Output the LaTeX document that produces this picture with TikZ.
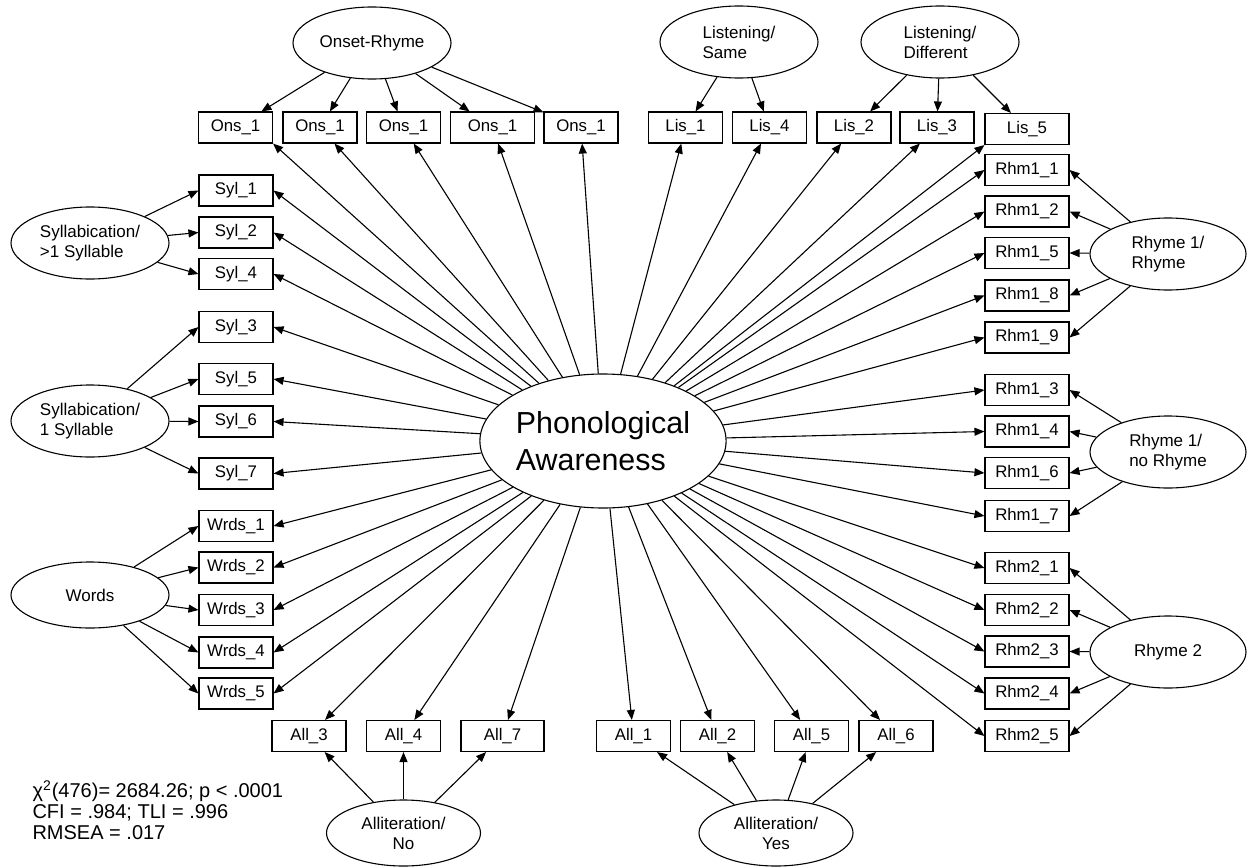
\documentclass[tikz,border=0pt]{standalone}
\usepackage{fontspec}
\setmainfont{Liberation Sans}
\usetikzlibrary{arrows.meta}
\usetikzlibrary{shapes.geometric}

\begin{document}
\begin{tikzpicture}[%
  >={Triangle[length=5pt,width=4pt]},
  x=0.5pt, y=-0.5pt,
  line width=0.55pt,
  item/.style={draw, rectangle, minimum width=37pt, minimum height=15.5pt, inner sep=0pt, font=\fontsize{8.4}{10}\selectfont},
  wideitem/.style={item, minimum width=42pt},
  factor/.style={draw, ellipse, minimum width=79pt, minimum height=36pt, inner sep=0pt, align=left, font=\fontsize{8.5}{10}\selectfont},
  general/.style={draw, ellipse, minimum width=121pt, minimum height=67pt, inner sep=0pt, align=left, font=\fontsize{15.2}{18.5}\selectfont},
]

  \useasboundingbox (0,0) rectangle (1247,867);

  \node[general] (pa) at (603,441) {Phonological\\Awareness};

  \node[factor] (onset) at (372,43) {Onset-Rhyme};
  \node[factor] (lsame) at (739,42) {Listening/\\Same};
  \node[factor] (ldiff) at (940,42) {Listening/\\Different};

  \node[item] (ons1) at (235.5,127.5) {Ons\_1};
  \node[item] (ons2) at (320,127.5) {Ons\_1};
  \node[item] (ons3) at (403.5,127.5) {Ons\_1};
  \node[wideitem] (ons4) at (492.5,127.5) {Ons\_1};
  \node[item] (ons5) at (581,127.5) {Ons\_1};
  \node[item] (lis1) at (685.5,127.5) {Lis\_1};
  \node[item] (lis4) at (769.5,127.5) {Lis\_4};
  \node[item] (lis2) at (854,127.5) {Lis\_2};
  \node[item] (lis3) at (937,127.5) {Lis\_3};
  \node[wideitem] (lis5) at (1027,129) {Lis\_5};

  \node[factor] (sylmulti) at (90,243) {Syllabication/\\>1 Syllable};
  \node[factor] (sylone) at (90,421) {Syllabication/\\1 Syllable};
  \node[factor, minimum height=33pt] (words) at (90,595) {Words};

  \node[item] (syl1) at (236,190.5) {Syl\_1};
  \node[item] (syl2) at (236,232.5) {Syl\_2};
  \node[item] (syl4) at (236,274) {Syl\_4};
  \node[item] (syl3) at (236,327) {Syl\_3};
  \node[item] (syl5) at (236,379) {Syl\_5};
  \node[item] (syl6) at (236,421.5) {Syl\_6};
  \node[item] (syl7) at (236,473.5) {Syl\_7};
  \node[item] (wrds1) at (236,526) {Wrds\_1};
  \node[item] (wrds2) at (236,567.5) {Wrds\_2};
  \node[item] (wrds3) at (236,610) {Wrds\_3};
  \node[item] (wrds4) at (236,652.5) {Wrds\_4};
  \node[item] (wrds5) at (236,693.5) {Wrds\_5};

  \node[factor, minimum width=78pt] (rhyme1) at (1168,254) {Rhyme 1/\\Rhyme};
  \node[factor, minimum width=78pt] (norhyme) at (1168,452) {Rhyme 1/\\no Rhyme};
  \node[factor, minimum width=78pt] (rhyme2) at (1168,652) {Rhyme 2};

  \node[wideitem] (rhm11) at (1027,170) {Rhm1\_1};
  \node[wideitem] (rhm12) at (1027,211.5) {Rhm1\_2};
  \node[wideitem] (rhm15) at (1027,253) {Rhm1\_5};
  \node[wideitem] (rhm18) at (1027,295.5) {Rhm1\_8};
  \node[wideitem] (rhm19) at (1027,337.5) {Rhm1\_9};
  \node[wideitem] (rhm13) at (1027,390) {Rhm1\_3};
  \node[wideitem] (rhm14) at (1027,431.5) {Rhm1\_4};
  \node[wideitem] (rhm16) at (1027,473) {Rhm1\_6};
  \node[wideitem] (rhm17) at (1027,516) {Rhm1\_7};
  \node[wideitem] (rhm21) at (1027,568) {Rhm2\_1};
  \node[wideitem] (rhm22) at (1027,610) {Rhm2\_2};
  \node[wideitem] (rhm23) at (1027,651.5) {Rhm2\_3};
  \node[wideitem] (rhm24) at (1027,693.5) {Rhm2\_4};
  \node[wideitem] (rhm25) at (1027,736) {Rhm2\_5};

  \node[item] (all3) at (309,736) {All\_3};
  \node[item] (all4) at (403.5,736) {All\_4};
  \node[item, minimum width=41.5pt] (all7) at (502.5,736) {All\_7};
  \node[item] (all1) at (633.5,736) {All\_1};
  \node[item] (all2) at (717.5,736) {All\_2};
  \node[item] (all5) at (811.5,736) {All\_5};
  \node[item] (all6) at (896,736) {All\_6};

  \node[factor, align=center, minimum width=77pt, minimum height=33pt] (allno) at (403.5,833) {Alliteration/\\No};
  \node[factor, align=center, minimum width=77pt, minimum height=33pt] (allyes) at (776,833) {Alliteration/\\Yes};

  \node[anchor=west, align=left, inner sep=0pt, font=\fontsize{10}{10.5}\selectfont] (fitstats) at (32,810)
    {χ\textsuperscript{2}(476)= 2684.26; p < .0001\\CFI = .984; TLI = .996\\RMSEA = .017};

  \draw[->] (pa) -- (ons1.south east);
  \foreach \b in {ons2,ons3,ons4,ons5,lis1,lis4,lis2,lis3}
    \draw[->] (pa) -- (\b);
  \draw[->] (pa) -- (lis5.south west);
  \foreach \b in {syl1,syl2,syl4,syl3,syl5,syl6,syl7,wrds1,wrds2,wrds3,wrds4,wrds5}
    \draw[->] (pa) -- (\b.east);
  \foreach \b in {rhm11,rhm12,rhm15,rhm18,rhm19,rhm13,rhm14,rhm16,rhm17,rhm21,rhm22,rhm23,rhm24,rhm25}
    \draw[->] (pa) -- (\b.west);
  \foreach \b in {all3,all4,all7,all1,all2,all5,all6}
    \draw[->] (pa) -- (\b);

  \foreach \b in {ons1,ons2,ons3,ons4,ons5}
    \draw[->] (onset) -- (\b);
  \foreach \b in {lis1,lis4}
    \draw[->] (lsame) -- (\b);
  \foreach \b in {lis2,lis3,lis5}
    \draw[->] (ldiff) -- (\b);

  \foreach \b in {syl1,syl2,syl4}
    \draw[->] (sylmulti) -- (\b.west);
  \foreach \b in {syl3,syl5,syl6,syl7}
    \draw[->] (sylone) -- (\b.west);
  \foreach \b in {wrds1,wrds2,wrds3,wrds4,wrds5}
    \draw[->] (words) -- (\b.west);

  \foreach \b in {rhm11,rhm12,rhm15,rhm18,rhm19}
    \draw[->] (rhyme1) -- (\b.east);
  \foreach \b in {rhm13,rhm14,rhm16,rhm17}
    \draw[->] (norhyme) -- (\b.east);
  \foreach \b in {rhm21,rhm22,rhm23,rhm24,rhm25}
    \draw[->] (rhyme2) -- (\b.east);

  \foreach \b in {all3,all4,all7}
    \draw[->] (allno) -- (\b);
  \foreach \b in {all1,all2,all5,all6}
    \draw[->] (allyes) -- (\b);

\end{tikzpicture}
\end{document}
